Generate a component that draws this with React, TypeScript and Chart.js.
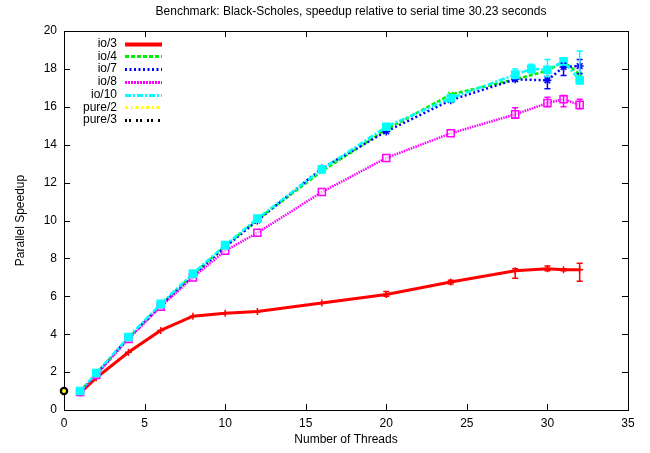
import { useEffect, useRef } from 'react';
import { Chart, registerables } from 'chart.js';

Chart.register(...registerables);

const FONT = "'Liberation Sans', Arial, Helvetica, sans-serif";

const titleText = 'Benchmark: Black-Scholes, speedup relative to serial time 30.23 seconds';
const xTitle = 'Number of Threads';
const yTitle = 'Parallel Speedup';

const xTicksMax = 35;
const yTicksMax = 20;

const N = null;

const threads = [1, 2, 4, 6, 8, 10, 12, 16, 20, 24, 28, 30, 31, 32];
const threadsIo10 = [1, 2, 4, 6, 8, 10, 12, 16, 20, 24, 28, 29, 30, 31, 32];
const threadsPure = [0];

const io3 = [0.9, 1.7, 3.05, 4.2, 4.95, 5.1, 5.2, 5.65, 6.1, 6.75, 7.35, 7.45, 7.4, 7.4];
const io3Lo = [N, N, N, N, N, N, N, N, 6.0, 6.65, 6.95, 7.35, 7.35, 6.8];
const io3Hi = [N, N, N, N, N, N, N, N, 6.25, 6.85, 7.45, 7.6, 7.45, 7.75];

const io4 = [1.0, 1.9, 3.8, 5.55, 7.15, 8.65, 10.05, 12.6, 14.8, 16.65, 17.45, 17.9, 18.4, 17.7];

const io7 = [0.95, 1.9, 3.8, 5.5, 7.1, 8.6, 10.0, 12.75, 14.7, 16.35, 17.45, 17.4, 18.1, 18.15];
const io7Lo = [N, N, N, N, N, N, N, N, N, N, N, 16.95, 17.65, 17.75];
const io7Hi = [N, N, N, N, N, N, N, N, N, N, N, 17.6, 18.3, 18.5];

const io8 = [0.95, 1.85, 3.75, 5.45, 7.0, 8.4, 9.35, 11.5, 13.3, 14.6, 15.6, 16.2, 16.4, 16.1];
const io8Lo = [N, N, N, N, N, N, N, N, N, N, 15.4, 16.0, 16.0, 15.9];
const io8Hi = [N, N, N, N, N, N, N, N, N, N, 15.95, 16.5, 16.6, 16.4];

const io10 = [1.0, 1.95, 3.85, 5.6, 7.2, 8.7, 10.1, 12.7, 14.95, 16.45, 17.7, 18.0, 17.95, 18.4, 17.4];
const io10Lo = [N, N, N, N, N, N, N, N, N, N, 17.5, 17.8, 17.6, 18.2, 17.2];
const io10Hi = [N, N, N, N, N, N, N, N, N, N, 18.0, 18.25, 18.5, 18.55, 18.95];

const pure2 = [1.0];
const pure3 = [1.0];

const toPoints = (xs: number[], ys: number[]) => xs.map((x, i) => ({ x, y: ys[i] }));

const framePlugin = {
  id: 'frame',
  beforeDatasetsDraw(chart: any) {
    const { ctx, chartArea: a, scales } = chart;
    ctx.save();
    ctx.strokeStyle = '#000';
    ctx.lineWidth = 1;
    ctx.setLineDash([]);
    const L = 6;
    const line = (x1: number, y1: number, x2: number, y2: number) => {
      ctx.beginPath();
      ctx.moveTo(x1, y1);
      ctx.lineTo(x2, y2);
      ctx.stroke();
    };
    scales.x.ticks.forEach((t: any) => {
      const px = Math.round(scales.x.getPixelForValue(t.value)) + 0.5;
      line(px, a.bottom, px, a.bottom - L);
      line(px, a.top, px, a.top + L);
    });
    scales.y.ticks.forEach((t: any) => {
      const py = Math.round(scales.y.getPixelForValue(t.value)) + 0.5;
      line(a.left, py, a.left + L, py);
      line(a.right, py, a.right - L, py);
    });
    ctx.strokeRect(Math.round(a.left) + 0.5, Math.round(a.top) + 0.5, Math.round(a.right - a.left), Math.round(a.bottom - a.top));
    ctx.restore();
  },
};

const errorPlugin = {
  id: 'errbars',
  afterDatasetsDraw(chart: any) {
    const { ctx, scales } = chart;
    ctx.save();
    ctx.setLineDash([]);
    chart.data.datasets.forEach((ds: any) => {
      if (!ds.errLo) return;
      ctx.strokeStyle = ds.borderColor;
      ctx.lineWidth = 1.5;
      ds.data.forEach((p: any, i: number) => {
        const lo = ds.errLo[i];
        const hi = ds.errHi[i];
        if (lo == null || hi == null) return;
        const px = scales.x.getPixelForValue(p.x);
        const pl = scales.y.getPixelForValue(lo);
        const ph = scales.y.getPixelForValue(hi);
        ctx.beginPath();
        ctx.moveTo(px, pl);
        ctx.lineTo(px, ph);
        ctx.moveTo(px - 3, pl);
        ctx.lineTo(px + 3, pl);
        ctx.moveTo(px - 3, ph);
        ctx.lineTo(px + 3, ph);
        ctx.stroke();
      });
    });
    ctx.restore();
  },
};

const legendPlugin = {
  id: 'gpLegend',
  afterDraw(chart: any) {
    const { ctx } = chart;
    ctx.save();
    ctx.font = `12px ${FONT}`;
    ctx.fillStyle = '#000';
    ctx.textAlign = 'center';
    ctx.textBaseline = 'middle';
    ctx.fillText(titleText, 351, 12);
    ctx.textAlign = 'right';
    chart.data.datasets.forEach((ds: any, i: number) => {
      const y = 43.5 + i * 12.75;
      ctx.fillText(ds.label, 117, y);
      ctx.strokeStyle = ds.borderColor;
      ctx.lineWidth = ds.legendWidth;
      ctx.setLineDash(ds.legendDash || ds.borderDash || []);
      ctx.beginPath();
      ctx.moveTo(125, Math.round(y) + 0.5);
      ctx.lineTo(162, Math.round(y) + 0.5);
      ctx.stroke();
    });
    ctx.restore();
  },
};

export default function App() {
  const ref = useRef<HTMLCanvasElement | null>(null);

  useEffect(() => {
    if (!ref.current) return;
    Chart.defaults.font.family = FONT;
    Chart.defaults.color = '#000';
    const base = { fill: false, tension: 0, pointBorderWidth: 1.5, clip: false as any, spanGaps: true };
    const chart = new Chart(ref.current, {
      type: 'line',
      data: {
        datasets: [
          {
            ...base, label: 'io/3', data: toPoints(threads, io3), borderColor: '#ff0000', backgroundColor: '#ff0000',
            borderWidth: 3, borderDash: [], pointStyle: 'cross', pointRadius: 3.5, order: 7,
            errLo: io3Lo, errHi: io3Hi, legendWidth: 4,
          } as any,
          {
            ...base, label: 'io/4', data: toPoints(threads, io4), borderColor: '#00ee00', backgroundColor: '#00ee00',
            borderWidth: 2.5, borderDash: [4, 2], pointStyle: 'crossRot', pointRadius: 3.5, order: 6, legendWidth: 3,
          } as any,
          {
            ...base, label: 'io/7', data: toPoints(threads, io7), borderColor: '#0000ff', backgroundColor: '#0000ff',
            borderWidth: 2.5, borderDash: [2, 2.5], pointStyle: 'star', pointRadius: 4, order: 5,
            errLo: io7Lo, errHi: io7Hi, legendWidth: 3,
          } as any,
          {
            ...base, label: 'io/8', data: toPoints(threads, io8), borderColor: '#ff00ff', backgroundColor: 'rgba(0,0,0,0)',
            pointBackgroundColor: 'rgba(255,255,255,0.6)',
            borderWidth: 2.5, borderDash: [1.5, 1], legendDash: [2, 1], pointStyle: 'rect', pointRadius: 5, order: 4,
            errLo: io8Lo, errHi: io8Hi, legendWidth: 3,
          } as any,
          {
            ...base, label: 'io/10', data: toPoints(threadsIo10, io10), borderColor: '#00ffff', backgroundColor: '#00ffff',
            borderWidth: 2.5, borderDash: [6, 2, 2, 2], pointStyle: 'rect', pointRadius: 5, order: 3,
            errLo: io10Lo, errHi: io10Hi, legendWidth: 3,
          } as any,
          {
            ...base, label: 'pure/2', data: toPoints(threadsPure, pure2), borderColor: '#ffff00', backgroundColor: '#ffff00',
            borderWidth: 2.5, borderDash: [3, 3, 1.5, 3], pointStyle: 'circle', pointRadius: 2, pointBorderWidth: 0, order: 1, legendWidth: 3,
          } as any,
          {
            ...base, label: 'pure/3', data: toPoints(threadsPure, pure3), borderColor: '#000000', backgroundColor: '#000000',
            borderWidth: 2.5, borderDash: [2, 2, 2, 5], pointStyle: 'circle', pointRadius: 3.5, order: 2, legendWidth: 3,
          } as any,
        ],
      },
      options: {
        responsive: false,
        animation: false,
        layout: { padding: { left: 0, right: 22, top: 31, bottom: 0 } },
        plugins: {
          legend: { display: false },
          tooltip: { enabled: false },
          title: { display: false },
        },
        scales: {
          x: {
            type: 'linear',
            min: 0,
            max: xTicksMax,
            ticks: { stepSize: 5, padding: 6, font: { size: 12 }, color: '#000' },
            grid: { display: false, drawTicks: false },
            border: { display: false },
            title: { display: true, text: xTitle, font: { size: 12 }, color: '#000', padding: { top: 0, bottom: 6 } },
            afterFit: (s: any) => { s.height = 43; },
          },
          y: {
            type: 'linear',
            min: 0,
            max: yTicksMax,
            ticks: { stepSize: 2, padding: 7, font: { size: 12 }, color: '#000' },
            grid: { display: false, drawTicks: false },
            border: { display: false },
            title: { display: true, text: yTitle, font: { size: 12 }, color: '#000', padding: { top: 13, bottom: 0 } },
            afterFit: (s: any) => { s.width = 64; },
          },
        },
      },
      plugins: [framePlugin, errorPlugin, legendPlugin],
    });
    return () => chart.destroy();
  }, []);

  return (
    <div style={{ position: 'absolute', left: 0, top: 0, width: 650, height: 453, background: '#fff' }}>
      <canvas ref={ref} width={650} height={453} />
    </div>
  );
}
